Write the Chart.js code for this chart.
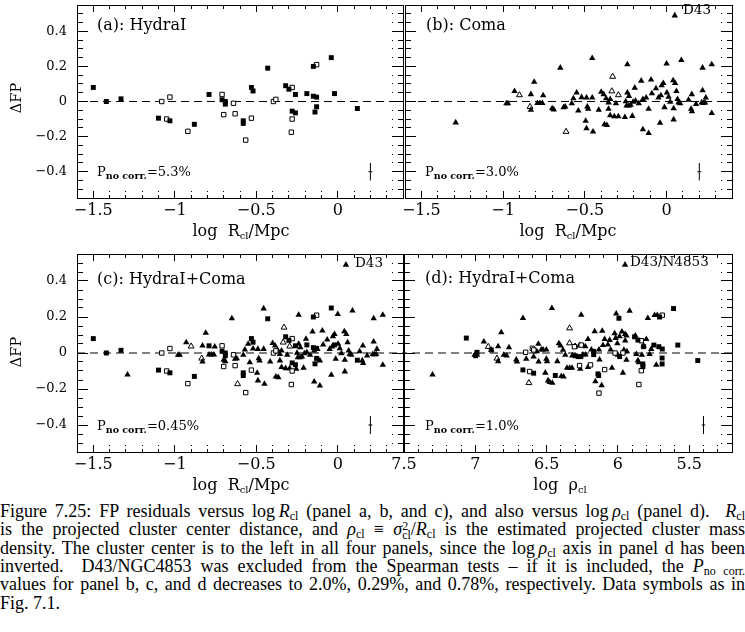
<!DOCTYPE html>
<html>
<head>
<meta charset="utf-8">
<script src="https://cdn.jsdelivr.net/npm/chart.js@4.4.0/dist/chart.umd.min.js"></script>
<style>
  body { margin: 0; background: #fff; width: 745px; height: 632px; position: relative; overflow: hidden; font-family: "DejaVu Serif", serif; color: #000; }
  canvas { position: absolute; }
  .t { position: absolute; white-space: nowrap; line-height: 1; transform: translateY(-50%); }
  .c { transform: translate(-50%, -50%); }
  .lab { font-size: 16px; }
  .p { font-size: 13px; }
  .p sub { font-size: 9.5px; font-weight: bold; vertical-align: -3px; }
  .ttl { font-size: 16px; }
  .ttl sub { font-size: 10px; vertical-align: -3px; }
  .dfp { position: absolute; font-size: 14.5px; line-height: 1; white-space: nowrap; transform: translate(-50%, -50%) rotate(-90deg); }
  .d43 { font-size: 13.5px; }
  .cap { position: absolute; left: 0; width: 745px; font-family: "Liberation Serif", serif; font-size: 18px; line-height: 18px; text-align: justify; text-align-last: justify; }
  .cap sub { font-size: 12px; vertical-align: -3px; line-height: 0; }
  .cap .st { display: inline-block; vertical-align: -4px; font-size: 12px; line-height: 9px; }
</style>
</head>
<body>
<canvas id="pa" width="408" height="228" style="left:0px;top:0px"></canvas>
<canvas id="pb" width="340" height="228" style="left:400px;top:0px"></canvas>
<canvas id="pc" width="408" height="233" style="left:0px;top:249px"></canvas>
<canvas id="pd" width="356" height="233" style="left:384px;top:249px"></canvas>

<div class="dfp" style="left:16px;top:98px">ΔFP</div>
<div class="dfp" style="left:16px;top:352px">ΔFP</div>

<div class="t lab" style="left:97px;top:25px">(a): HydraI</div>
<div class="t lab" style="left:426px;top:25px">(b): Coma</div>
<div class="t lab" style="left:97px;top:279px">(c): HydraI+Coma</div>
<div class="t lab" style="left:425px;top:278px">(d): HydraI+Coma</div>

<div class="t p" style="left:97px;top:173px">P<sub>no corr.</sub>=5.3%</div>
<div class="t p" style="left:425px;top:173px">P<sub>no corr.</sub>=3.0%</div>
<div class="t p" style="left:97px;top:427px">P<sub>no corr.</sub>=0.45%</div>
<div class="t p" style="left:425px;top:427px">P<sub>no corr.</sub>=1.0%</div>

<div class="t d43" style="left:683px;top:10px">D43</div>
<div class="t d43" style="left:355px;top:263px">D43</div>
<div class="t d43" style="left:630px;top:262px">D43/N4853</div>

<div class="t c ttl" style="left:241px;top:232px">log&nbsp; R<sub>cl</sub>/Mpc</div>
<div class="t c ttl" style="left:568px;top:232px">log&nbsp; R<sub>cl</sub>/Mpc</div>
<div class="t c ttl" style="left:241px;top:486px">log&nbsp; R<sub>cl</sub>/Mpc</div>
<div class="t c ttl" style="left:560px;top:486px">log&nbsp; ρ<sub>cl</sub></div>

<div class="cap" style="top:502px">Figure 7.25: FP residuals versus log&thinsp;<i>R</i><sub>cl</sub> (panel a, b, and c), and also versus log&thinsp;<i>ρ</i><sub>cl</sub> (panel d). &nbsp;<i>R</i><sub>cl</sub></div>
<div class="cap" style="top:520px">is the projected cluster center distance, and <i>ρ</i><sub>cl</sub> ≡ <i>σ</i><span class="st">2<br>cl</span>/<i>R</i><sub>cl</sub> is the estimated projected cluster mass</div>
<div class="cap" style="top:538.5px">density. The cluster center is to the left in all four panels, since the log&thinsp;<i>ρ</i><sub>cl</sub> axis in panel d has been</div>
<div class="cap" style="top:557px">inverted. &nbsp;D43/NGC4853 was excluded from the Spearman tests – if it is included, the <i>P</i><sub>no corr.</sub></div>
<div class="cap" style="top:575px">values for panel b, c, and d decreases to 2.0%, 0.29%, and 0.78%, respectively. Data symbols as in</div>
<div class="cap" style="top:593.5px;text-align-last:left">Fig. 7.1.</div>

<script>
// HydraI, log R_cl (filled and open squares)
var hydraFilledR = [-1.50, -1.42, -1.33, -1.10, -1.03, -0.88, -0.79, -0.71, -0.69, -0.69, -0.58, -0.58, -0.53, -0.52, -0.43, -0.32, -0.30, -0.26, -0.28, -0.26, -0.19, -0.15, -0.13, -0.15, -0.13, -0.14, -0.04, -0.02, 0.12];
var hydraFilledY = [0.08, 0.0, 0.015, -0.095, -0.11, -0.13, 0.04, 0.01, 0.0, -0.015, -0.11, -0.125, 0.08, 0.06, 0.19, 0.09, 0.07, 0.04, -0.055, -0.065, 0.045, 0.03, 0.025, 0.20, -0.03, -0.06, 0.25, 0.045, -0.04];
var hydraOpenR = [-1.08, -1.03, -1.05, -0.92, -0.71, -0.70, -0.64, -0.63, -0.565, -0.53, -0.395, -0.38, -0.28, -0.28, -0.285, -0.13];
var hydraOpenY = [0.0, 0.025, -0.10, -0.17, 0.04, -0.075, -0.01, -0.07, -0.22, -0.095, 0.0, 0.012, 0.08, -0.10, -0.175, 0.21];

// Coma, log R_cl (filled and open triangles)
var comaFilledR = [-1.29, -0.98, -0.97, -0.93, -0.83, -0.81, -0.83, -0.79, -0.775, -0.76, -0.755, -0.70, -0.69, -0.65, -0.63, -0.62, -0.58, -0.57, -0.55, -0.54, -0.52, -0.49, -0.485, -0.48, -0.495, -0.49, -0.455, -0.45, -0.455, -0.415, -0.40, -0.385, -0.38, -0.365, -0.37, -0.355, -0.355, -0.345, -0.345, -0.32, -0.295, -0.31, -0.25, -0.255, -0.24, -0.24, -0.23, -0.245, -0.23, -0.22, -0.21, -0.205, -0.19, -0.195, -0.17, -0.155, -0.145, -0.145, -0.125, -0.11, -0.11, -0.095, -0.09, -0.065, -0.05, -0.04, -0.03, -0.02, -0.035, -0.013, 0.0, 0.002, 0.012, 0.022, 0.04, 0.052, 0.06, 0.043, 0.043, 0.067, 0.073, 0.09, 0.083, 0.134, 0.154, 0.15, 0.155, 0.18, 0.215, 0.225, 0.235, 0.22, 0.22, 0.24, 0.276, 0.276];
var comaFilledY = [-0.12, -0.011, -0.011, 0.059, 0.041, 0.111, -0.048, -0.009, -0.009, -0.009, 0.035, -0.039, -0.046, 0.192, -0.033, -0.03, -0.011, 0.018, 0.05, -0.052, 0.024, 0.022, -0.03, -0.042, -0.111, -0.153, 0.247, -0.172, 0.022, -0.048, 0.055, 0.041, -0.131, -0.135, 0.017, -0.006, -0.042, 0.013, -0.079, -0.085, -0.085, -0.011, 0.0, -0.089, 0.211, 0.05, 0.031, -0.024, -0.024, -0.02, -0.083, -0.002, 0.004, 0.078, -0.011, 0.118, 0.013, -0.159, 0.022, -0.181, -0.042, 0.124, 0.046, 0.074, 0.022, -0.122, 0.092, 0.105, 0.035, -0.033, 0.216, 0.05, 0.026, -0.002, 0.12, 0.105, 0.059, -0.039, -0.103, 0.013, -0.006, 0.235, -0.011, 0.009, 0.041, -0.042, -0.057, -0.015, -0.006, -0.009, -0.006, 0.192, 0.063, 0.022, 0.211, -0.066];
var comaOpenR = [-0.90, -0.835, -0.615, -0.33, -0.335, -0.295];
var comaOpenY = [0.037, -0.03, -0.172, 0.142, 0.059, 0.037];

// D43 / NGC4853
var d43R = 0.05, d43Rho = 5.95, d43Y = 0.49;

// HydraI + Coma, log rho_cl (panel d)
var rhoSqFilledX = [7.063, 6.988, 6.998, 6.888, 6.666, 6.591, 6.439, 6.30, 6.28, 6.26, 6.17, 6.17, 6.14, 6.135, 5.993, 5.988, 5.883, 5.86, 5.825, 5.825, 5.82, 5.748, 5.708, 5.713, 5.689, 5.69, 5.69, 5.61, 5.58, 5.44];
var rhoSqFilledY = [0.083, 0.004, -0.015, 0.017, -0.094, -0.112, -0.125, -0.015, -0.02, -0.02, 0.009, -0.009, -0.116, -0.125, 0.193, -0.02, 0.09, 0.072, -0.061, -0.076, 0.035, 0.044, 0.2, 0.035, 0.022, -0.028, -0.061, 0.247, 0.044, -0.042];
var rhoSqOpenX = [6.647, 6.619, 6.60, 6.59, 6.305, 6.269, 6.257, 6.192, 6.133, 6.093, 5.965, 5.836, 5.836, 5.853, 5.689, 6.02];
var rhoSqOpenY = [0.004, -0.103, 0.026, 0.017, 0.035, -0.07, 0.044, -0.066, -0.223, -0.092, 0.0, 0.068, -0.098, -0.175, 0.21, 0.0];
var rhoTriFilledX = [7.30, 7.005, 6.988, 6.94, 6.888, 6.84, 6.818, 6.84, 6.80, 6.78, 6.764, 6.713, 6.708, 6.666, 6.643, 6.591, 6.568, 6.558, 6.556, 6.537, 6.525, 6.502, 6.509, 6.502, 6.497, 6.49, 6.478, 6.46, 6.463, 6.425, 6.414, 6.402, 6.397, 6.381, 6.385, 6.369, 6.357, 6.339, 6.322, 6.32, 6.257, 6.269, 6.264, 6.245, 6.227, 6.229, 6.21, 6.21, 6.186, 6.163, 6.11, 6.158, 6.133, 6.129, 6.114, 6.105, 6.093, 6.07, 6.058, 6.051, 6.042, 6.023, 6.016, 6.012, 6.0, 6.004, 5.988, 5.972, 5.965, 5.958, 5.95, 5.94, 5.949, 5.94, 5.937, 5.918, 5.878, 5.871, 5.86, 5.853, 5.832, 5.82, 5.801, 5.79, 5.778, 5.766, 5.743, 5.731, 5.724];
var rhoTriFilledY = [-0.12, -0.011, -0.011, 0.063, 0.017, 0.037, 0.114, -0.046, -0.011, -0.015, 0.031, -0.037, -0.048, 0.193, -0.033, -0.02, 0.009, 0.05, -0.048, 0.018, 0.018, 0.018, -0.11, -0.033, -0.046, -0.153, -0.162, -0.166, 0.249, -0.046, 0.053, 0.041, -0.129, -0.131, 0.017, -0.011, -0.083, -0.083, -0.083, -0.015, 0.212, 0.044, -0.088, -0.009, -0.009, 0.037, 0.077, -0.079, 0.018, 0.12, 0.123, -0.158, 0.018, -0.037, -0.18, 0.044, 0.077, 0.046, 0.072, 0.018, -0.083, 0.109, 0.083, 0.219, -0.011, 0.053, 0.092, 0.118, -0.11, 0.017, 0.105, 0.096, 0.068, -0.039, 0.009, 0.234, 0.096, -0.006, -0.042, -0.052, -0.011, 0.041, 0.077, 0.193, -0.006, 0.022, 0.21, -0.066, 0.21];
var rhoTriOpenX = [6.909, 6.848, 6.624, 6.339, 6.339, 6.30];
var rhoTriOpenY = [0.035, -0.03, -0.166, 0.138, 0.055, 0.037];

// axes: major tick labels and ranges
var rMajor = [-1.5, -1, -0.5, 0];
var rhoMajor = [7.5, 7, 6.5, 6, 5.5];
var yMajor = [-0.4, -0.2, 0, 0.2, 0.4];
var rRange = [-1.6, 0.4];
var rhoRange = [5.2, 7.5];
var yRange = [-0.55, 0.55];

// typical error bar (position in data units)
var errR = 0.2, errRho = 5.4, errY = -0.4, errDy = 0.05;

function pts(xs, ys) {
  var out = [];
  for (var i = 0; i < xs.length; i++) out.push({ x: xs[i], y: ys[i] });
  return out;
}

function isMajor(v, list) {
  for (var i = 0; i < list.length; i++) if (Math.abs(v - list[i]) < 1e-6) return true;
  return false;
}

function fmt(v) {
  if (Math.abs(v) < 1e-9) return "0";
  var s = String(Math.round(Math.abs(v) * 100) / 100);
  return (v < 0 ? "\u2212" : "") + s;
}

function tickVals(min, max, step) {
  var out = [];
  var k0 = Math.ceil(min / step - 1e-6), k1 = Math.floor(max / step + 1e-6);
  for (var k = k0; k <= k1; k++) {
    var v = Math.round(k * step * 1000) / 1000;
    if (v > min + 1e-6 && v < max - 1e-6) out.push(v);
  }
  return out;
}

function axis(id, pos, range, step, major, len, minorLen, size, showLabels, fontSize, pad, reverse) {
  var innerStart = pos === "left" || pos === "top";
  return {
    type: "linear",
    axis: id.charAt(0),
    position: pos,
    min: range[0],
    max: range[1],
    reverse: !!reverse,
    afterBuildTicks: function (ax) {
      // the 7.5 label of panel d sits right on its left border
      var keep = reverse && isMajor(range[1], major);
      ax.ticks = tickVals(range[0], range[1] + (keep ? 0.01 : 0), step).map(function (v) { return { value: v }; });
    },
    afterFit: function (ax) {
      if (pos === "left" || pos === "right") ax.width = size;
      else ax.height = size;
      ax.paddingLeft = ax.paddingRight = ax.paddingTop = ax.paddingBottom = 0;
    },
    grid: {
      drawOnChartArea: false,
      drawTicks: true,
      tickLength: -len,
      tickWidth: 1,
      tickColor: "#000",
      color: "#000",
      tickBorderDash: function (c) {
        if (!c.tick || isMajor(c.tick.value, major)) return [];
        return [minorLen, len - minorLen];
      },
      tickBorderDashOffset: function (c) {
        if (!c.tick || isMajor(c.tick.value, major)) return 0;
        return innerStart ? minorLen : 0;
      },
    },
    border: { display: true, color: "#000", width: 1 },
    ticks: {
      display: showLabels,
      autoSkip: false,
      maxRotation: 0,
      minRotation: 0,
      padding: pad,
      color: "#000",
      font: { family: "DejaVu Serif", size: fontSize },
      callback: function (v) { return isMajor(v, major) ? fmt(v) : ""; },
    },
  };
}

function markSets(sqF, sqO, trF, trO) {
  return [
    { data: sqF, pointStyle: "rect", pointRadius: 3.5, pointBackgroundColor: "#000", pointBorderColor: "#000", pointBorderWidth: 0 },
    { data: sqO, pointStyle: "rect", pointRadius: 3.1, pointBackgroundColor: "#fff", pointBorderColor: "#000", pointBorderWidth: 1 },
    { data: trF, pointStyle: "triangle", pointRadius: 3.7, pointBackgroundColor: "#000", pointBorderColor: "#000", pointBorderWidth: 0 },
    { data: trO, pointStyle: "triangle", pointRadius: 3.4, pointBackgroundColor: "#fff", pointBorderColor: "#000", pointBorderWidth: 1 },
  ];
}

function makePanel(id, xr, xMajorList, reverse, sets, errX, pad, yLabels) {
  var lineSets = [
    { data: [{ x: errX, y: errY - errDy }, { x: errX, y: errY + errDy }], showLine: true, borderColor: "#000", borderWidth: 1, pointRadius: 0 },
    { data: [{ x: errX - 0.012, y: errY }, { x: errX + 0.012, y: errY }], showLine: true, borderColor: "#000", borderWidth: 1, pointRadius: 0 },
    { data: [{ x: xr[0], y: 0 }, { x: xr[1], y: 0 }], showLine: true, borderColor: "#000", borderWidth: 1, borderDash: [8, 5], pointRadius: 0 },
  ];
  var ctx = document.getElementById(id).getContext("2d");
  return new Chart(ctx, {
    type: "scatter",
    data: { datasets: sets.concat(lineSets) },
    options: {
      responsive: false,
      animation: false,
      devicePixelRatio: 1,
      layout: { padding: 0 },
      plugins: { legend: { display: false }, tooltip: { enabled: false } },
      scales: {
        x: axis("x", "bottom", xr, 0.1, xMajorList, 7, 4, pad.b, true, 16, 10, reverse),
        x2: axis("x2", "top", xr, 0.1, xMajorList, 7, 4, pad.t, false, 16, 0, reverse),
        y: axis("y", "left", yRange, 0.05, yMajor, 11, 6, pad.l, yLabels, 13, 21, false),
        y2: axis("y2", "right", yRange, 0.05, yMajor, 11, 6, pad.r, false, 13, 0, false),
      },
    },
  });
}

var hydraF = pts(hydraFilledR, hydraFilledY);
var hydraO = pts(hydraOpenR, hydraOpenY);
var comaF = pts(comaFilledR, comaFilledY).concat([{ x: d43R, y: d43Y }]);
var comaO = pts(comaOpenR, comaOpenY);

makePanel("pa", rRange, rMajor, false, markSets(hydraF, hydraO, [], []), errR, { l: 77, r: 4, t: 0, b: 30 }, true);
makePanel("pb", rRange, rMajor, false, markSets([], [], comaF, comaO), errR, { l: 4, r: 8, t: 0, b: 30 }, false);
makePanel("pc", rRange, rMajor, false, markSets(hydraF, hydraO, comaF, comaO), errR, { l: 77, r: 4, t: 4, b: 30 }, true);
makePanel("pd", rhoRange, rhoMajor, true,
  markSets(pts(rhoSqFilledX, rhoSqFilledY), pts(rhoSqOpenX, rhoSqOpenY),
    pts(rhoTriFilledX, rhoTriFilledY).concat([{ x: d43Rho, y: d43Y }]), pts(rhoTriOpenX, rhoTriOpenY)),
  errRho, { l: 20, r: 8, t: 4, b: 30 }, false);
</script>
</body>
</html>
